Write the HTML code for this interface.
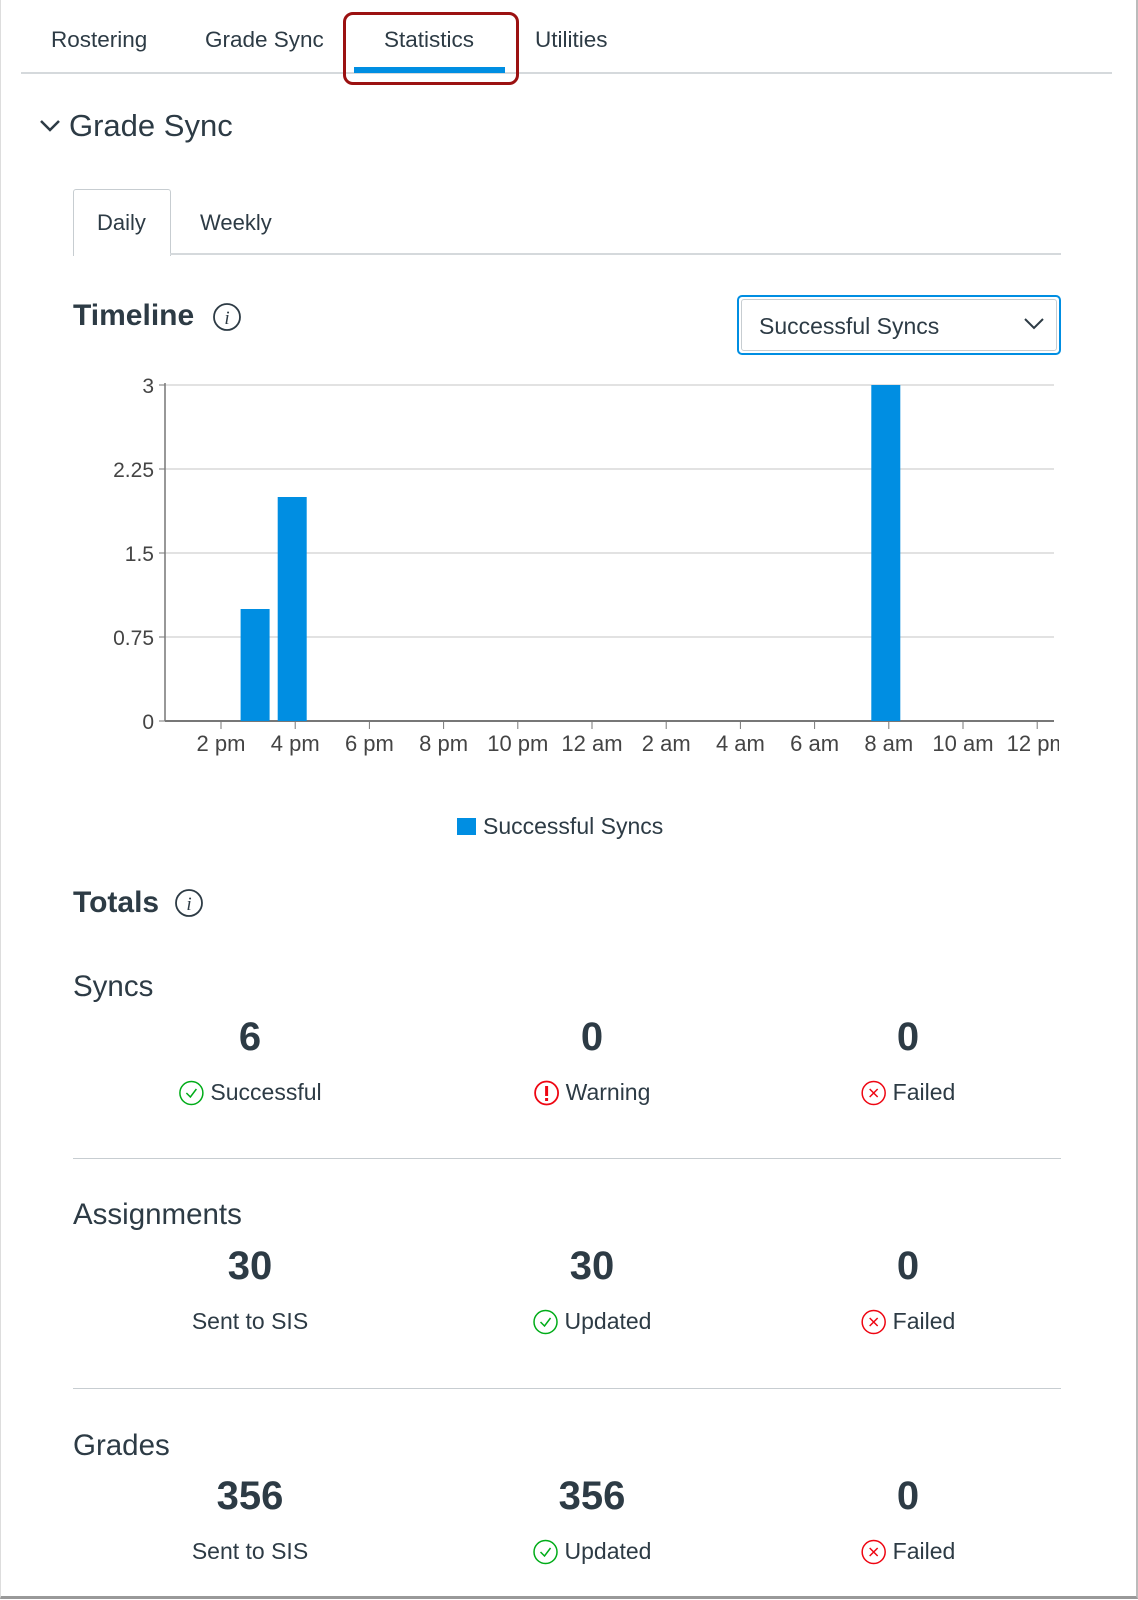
<!DOCTYPE html>
<html><head><meta charset="utf-8">
<style>
html,body{margin:0;padding:0;background:#fff;}
body{width:1138px;height:1600px;position:relative;overflow:hidden;font-family:"Liberation Sans",Arial,sans-serif;color:#2d3b45;}
.abs{position:absolute;white-space:nowrap;}
.frame{position:absolute;left:0;top:0;width:1135px;height:1596px;border-right:2px solid #bbb;border-bottom:3px solid #999;border-left:1px solid #ddd;}
.tab{font-size:22.5px;top:27px;}
.lbl{font-size:23px;display:flex;align-items:center;gap:6px;transform:translateX(-50%);}
.num{font-size:40px;font-weight:bold;transform:translateX(-50%);}
.sec{font-size:29.5px;}
.div{position:absolute;left:73px;width:988px;height:1px;background:#c7cdd1;}
</style></head><body>
<div class="frame"></div>

<div class="abs tab" style="left:51px">Rostering</div>
<div class="abs tab" style="left:205px">Grade Sync</div>
<div class="abs tab" style="left:384px">Statistics</div>
<div class="abs tab" style="left:535px">Utilities</div>
<div class="abs" style="left:21px;top:72px;width:1091px;height:2px;background:#d5d9dc"></div>
<div class="abs" style="left:354px;top:67px;width:151px;height:6px;background:#008ee2"></div>
<div class="abs" style="left:343px;top:12px;width:170px;height:67px;border:3px solid #9b1111;border-radius:10px"></div>

<svg class="abs" style="left:39px;top:118px" width="22" height="16"><polyline points="2,3 11,12 20,3" fill="none" stroke="#2d3b45" stroke-width="2.5"/></svg>
<div class="abs" style="left:69px;top:108px;font-size:31px">Grade Sync</div>

<div class="abs" style="left:73px;top:189px;width:96px;height:66px;border:1px solid #c7cdd1;border-bottom:none;background:#fff;border-radius:3px 3px 0 0"></div>
<div class="abs" style="left:97px;top:210px;font-size:22px">Daily</div>
<div class="abs" style="left:200px;top:210px;font-size:22px">Weekly</div>
<div class="abs" style="left:170px;top:253px;width:891px;height:2px;background:#d5d9dc"></div>

<div class="abs" style="left:73px;top:299px;font-size:30px;font-weight:bold">Timeline</div>
<svg class="abs" style="left:212px;top:302px" width="30" height="30"><circle cx="15" cy="15" r="13" fill="none" stroke="#2d3b45" stroke-width="1.8"/><text x="15" y="22" text-anchor="middle" font-family="Liberation Serif" font-style="italic" font-size="19" fill="#2d3b45">i</text></svg>

<div class="abs" style="left:737px;top:295px;width:320px;height:56px;border:2px solid #008ee2;border-radius:5px"></div>
<div class="abs" style="left:741px;top:299px;width:314px;height:50px;border:1px solid #c7cdd1;border-radius:3px"></div>
<div class="abs" style="left:759px;top:313px;font-size:23px">Successful Syncs</div>
<svg class="abs" style="left:1023px;top:317px" width="22" height="14"><polyline points="2,2 11,11 20,2" fill="none" stroke="#2d3b45" stroke-width="2"/></svg>

<svg id="chart" class="abs" style="left:0;top:0" width="1059" height="860"></svg>

<div class="abs" style="left:457px;top:818px;width:19px;height:17px;background:#008ee2"></div>
<div class="abs" style="left:483px;top:813px;font-size:23px">Successful Syncs</div>

<div class="abs" style="left:73px;top:886px;font-size:30px;font-weight:bold">Totals</div>
<svg class="abs" style="left:174px;top:888px" width="30" height="30"><circle cx="15" cy="15" r="13" fill="none" stroke="#2d3b45" stroke-width="1.8"/><text x="15" y="22" text-anchor="middle" font-family="Liberation Serif" font-style="italic" font-size="19" fill="#2d3b45">i</text></svg>

<div id="totals"></div>

<script>
const yTicks = [0, 0.75, 1.5, 2.25, 3];
const xTickLabels = ["2 pm","4 pm","6 pm","8 pm","10 pm","12 am","2 am","4 am","6 am","8 am","10 am","12 pm"];
const xTickHours = [0,2,4,6,8,10,12,14,16,18,20,22];
const barCategories = ["3 pm","4 pm","8 am"];
const barHours = [1, 2, 18];
const barValues = [1, 2, 3];

const NS = "http://www.w3.org/2000/svg";
const svg = document.getElementById("chart");
const x0 = 165, xEnd = 1054, yTop = 385, yZero = 721, yMax = 3;
function xScale(h){ return 221 + h * 37.1; }
function yScale(v){ return yZero - v / yMax * (yZero - yTop); }
function mk(tag, attrs){ const e = document.createElementNS(NS, tag); for (const k in attrs) e.setAttribute(k, attrs[k]); svg.appendChild(e); return e; }

yTicks.forEach((t) => {
  const y = yScale(t);
  const g = mk("line", {x1:x0, x2:xEnd, y1:y, y2:y, stroke: t===0 ? "#777" : "#d9d9d9", "stroke-width": t===0 ? 2 : 1.5});
  
  
  const tk = mk("line", {x1:x0-6, x2:x0, y1:y, y2:y, stroke:"#777", "stroke-width":1});
  
  
  const tx = mk("text", {x:x0-11, y:y+8, "text-anchor":"end", "font-size":21, fill:"#444", "font-family":"Liberation Sans"});
  tx.textContent = String(t);
  
  
});
const ax = mk("line", {x1:x0, x2:x0, y1:yTop-2, y2:yZero, stroke:"#777", "stroke-width":1.5});



xTickHours.forEach((h, i) => {
  const x = xScale(h);
  const tk = mk("line", {x1:x, x2:x, y1:yZero, y2:yZero+8, stroke:"#777", "stroke-width":1});
  
  
  const tx = mk("text", {x:x, y:yZero+30, "text-anchor":"middle", "font-size":22, fill:"#444", "font-family":"Liberation Sans"});
  tx.textContent = xTickLabels[i];
  
  
});

barHours.forEach((h, i) => {
  const cx = xScale(h) - 3;
  const y = yScale(barValues[i]);
  const r = mk("rect", {x:cx-14.5, y:y, width:29, height:yZero-y, fill:"#008ee2"});
  
  
});

const sections = [
  {title:"Syncs", ty:988, ny:1038, ly:1093, nums:["6","0","0"], labels:["Successful","Warning","Failed"], icons:["ok","warn","fail"]},
  {title:"Assignments", ty:1216, ny:1267, ly:1322, nums:["30","30","0"], labels:["Sent to SIS","Updated","Failed"], icons:["","ok","fail"]},
  {title:"Grades", ty:1447, ny:1497, ly:1552, nums:["356","356","0"], labels:["Sent to SIS","Updated","Failed"], icons:["","ok","fail"]}
];
const cols = [250, 592, 908];
const icon = {
  ok:'<svg width="26" height="26"><circle cx="13" cy="13" r="11.5" fill="none" stroke="#00ac18" stroke-width="1.5"/><polyline points="8,13 12,17 18,9" fill="none" stroke="#00ac18" stroke-width="1.5"/></svg>',
  warn:'<svg width="26" height="26"><circle cx="13" cy="13" r="11.5" fill="none" stroke="#ee0612" stroke-width="1.8"/><rect x="11.5" y="6" width="3" height="10" fill="#ee0612"/><rect x="11.5" y="18" width="3" height="3" fill="#ee0612"/></svg>',
  fail:'<svg width="26" height="26"><circle cx="13" cy="13" r="11.5" fill="none" stroke="#ee0612" stroke-width="1.5"/><path d="M9 9 L17 17 M17 9 L9 17" stroke="#ee0612" stroke-width="1.5"/></svg>'
};
const host = document.getElementById("totals");
let html = "";
sections.forEach((s, si) => {
  html += '<div class="abs sec" style="left:73px;top:'+(s.ty-18)+'px">'+s.title+'</div>';
  cols.forEach((c, i) => {
    html += '<div class="abs num" style="left:'+c+'px;top:'+(s.ny-23)+'px">'+s.nums[i]+'</div>';
    html += '<div class="abs lbl" style="left:'+c+'px;top:'+(s.ly-14)+'px">'+(s.icons[i]?icon[s.icons[i]]:'')+'<span>'+s.labels[i]+'</span></div>';
  });
  if (si < 2) html += '<div class="div" style="top:'+(si===0?1158:1388)+'px"></div>';
});
host.innerHTML = html;
</script>
</body></html>
